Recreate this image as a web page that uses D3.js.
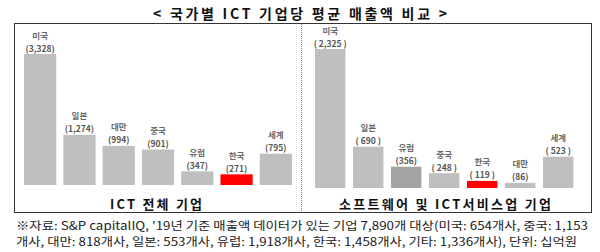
<!DOCTYPE html>
<html>
<head>
<meta charset="utf-8">
<script src="https://cdn.jsdelivr.net/npm/d3@7"></script>
<style>
  html, body { margin: 0; padding: 0; background: #fff; }
  svg { display: block; font-family: "Noto Sans CJK KR", "Noto Sans", sans-serif; }
</style>
</head>
<body>
<svg id="chart" width="600" height="252"></svg>
<script>
// ICT 전체 기업
const allCats = ["미국", "일본", "대만", "중국", "유럽", "한국", "세계"];
const allValues = [3328, 1274, 994, 901, 347, 271, 795];
const allLabels = ["(3,328)", "(1,274)", "(994)", "(901)", "(347)", "(271)", "(795)"];

// 소프트웨어 및 ICT서비스업 기업
const swCats = ["미국", "일본", "유럽", "중국", "한국", "대만", "세계"];
const swValues = [2325, 690, 356, 248, 119, 86, 523];
const swLabels = ["( 2,325 )", "( 690 )", "(356)", "( 248 )", "( 119 )", "(86)", "( 523 )"];

const titleText = "< 국가별 ICT 기업당 평균 매출액 비교 >";
const noteLines = [
  "※자료: S&P capitalIQ, '19년 기준 매출액 데이터가 있는 기업 7,890개 대상(미국: 654개사, 중국: 1,153",
  "개사, 대만: 818개사, 일본: 553개사, 유럽: 1,918개사, 한국: 1,458개사, 기타: 1,336개사), 단위: 십억원"
];

const GRAY = "#bfbfbf";
const DARK_GRAY = "#a3a3a3";
const RED = "#ff0000";

const svg = d3.select("#chart");

// frame + divider
svg.append("rect")
  .attr("x", 14.5).attr("y", 23.5)
  .attr("width", 577).attr("height", 189)
  .attr("fill", "none").attr("stroke", "#333").attr("stroke-width", 1);

svg.append("line")
  .attr("x1", 301.5).attr("x2", 301.5)
  .attr("y1", 24).attr("y2", 212)
  .attr("stroke", "#888").attr("stroke-dasharray", "1,1");

// title
svg.append("text")
  .attr("x", 300).attr("y", 18.5)
  .attr("text-anchor", "middle")
  .attr("textLength", 294).attr("lengthAdjust", "spacing")
  .style("font-size", "14px").style("font-weight", "700")
  .style("fill", "#111")
  .text(titleText);

function panel(cats, values, labels, opts) {
  const x = d3.scaleBand()
    .domain(cats)
    .range(opts.xRange)
    .paddingInner(opts.padInner)
    .paddingOuter(opts.padOuter);
  const y = d3.scaleLinear()
    .domain([0, d3.max(values)])
    .range([opts.base, opts.top]);

  const g = svg.append("g");
  const rows = cats.map((c, i) => ({ c, v: values[i], label: labels[i] }));

  g.selectAll("rect.bar")
    .data(rows)
    .join("rect")
    .attr("class", "bar")
    .attr("x", d => x(d.c))
    .attr("y", d => y(d.v))
    .attr("width", x.bandwidth())
    .attr("height", d => opts.base - y(d.v))
    .attr("fill", d => opts.color(d.c));

  g.selectAll("text.name")
    .data(rows)
    .join("text")
    .attr("class", "name")
    .attr("x", d => x(d.c) + x.bandwidth() / 2)
    .attr("y", d => y(d.v) - 15.5)
    .attr("text-anchor", "middle")
    .style("font-size", "8.5px").style("font-weight", "700")
    .style("fill", "#6a6a6a")
    .text(d => d.c);

  g.selectAll("text.val")
    .data(rows)
    .join("text")
    .attr("class", "val")
    .attr("x", d => x(d.c) + x.bandwidth() / 2)
    .attr("y", d => y(d.v) - 2.5)
    .attr("text-anchor", "middle")
    .style("font-size", "8.5px").style("font-weight", "700")
    .style("fill", "#555")
    .text(d => d.label);

  g.append("text")
    .attr("x", opts.subX).attr("y", 209)
    .attr("text-anchor", "middle")
    .attr("textLength", opts.subW).attr("lengthAdjust", "spacing")
    .style("font-size", "13px").style("font-weight", "700")
    .style("fill", "#111")
    .text(opts.subtitle);
}

panel(allCats, allValues, allLabels, {
  xRange: [20.5, 295.5], padInner: 0.18, padOuter: 0.09,
  base: 185, top: 54,
  color: c => c === "한국" ? RED : GRAY,
  subX: 156, subW: 92, subtitle: "ICT 전체 기업"
});

panel(swCats, swValues, swLabels, {
  xRange: [311.2, 577.2], padInner: 0.2, padOuter: 0.1,
  base: 188, top: 49,
  color: c => c === "한국" ? RED : (c === "유럽" ? DARK_GRAY : GRAY),
  subX: 445, subW: 212, subtitle: "소프트웨어 및 ICT서비스업 기업"
});

// footnote
svg.selectAll("text.note")
  .data(noteLines)
  .join("text")
  .attr("class", "note")
  .attr("x", 16)
  .attr("y", (d, i) => 230 + i * 15.5)
  .attr("textLength", (d, i) => i === 0 ? 572 : 561)
  .attr("lengthAdjust", "spacingAndGlyphs")
  .style("font-size", "11.5px")
  .style("fill", "#222")
  .text(d => d);
</script>
</body>
</html>
